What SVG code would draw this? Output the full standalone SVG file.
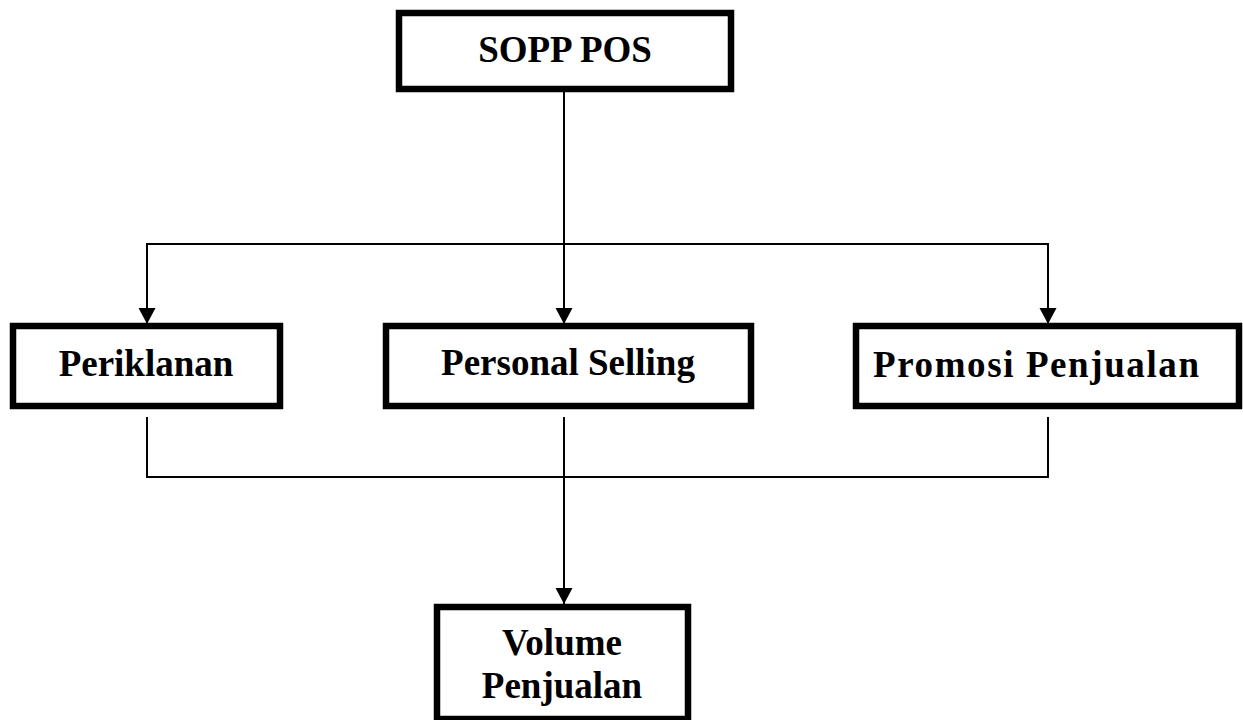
<svg xmlns="http://www.w3.org/2000/svg" width="1243" height="720" viewBox="0 0 1243 720">
<style>
.box{fill:#fff;stroke:#000;stroke-width:6.5}
.lbl{font-family:"Liberation Serif","Times New Roman",serif;font-weight:bold;font-size:37px;fill:#000;text-anchor:middle}
.ln{fill:none;stroke:#000;stroke-width:2}
</style>
<defs>
<marker id="ah" markerUnits="userSpaceOnUse" markerWidth="18" markerHeight="18" refX="16" refY="8.5" orient="auto">
<path d="M0,0 L16,8.5 L0,17 Z" fill="#000"/>
</marker>
</defs>
<rect width="1243" height="720" fill="#fff"/>
<g id="connectors">
<line class="ln" x1="564" y1="92" x2="564" y2="324" marker-end="url(#ah)"/>
<polyline class="ln" points="147,324 147,244 1048,244 1048,324"/>
<line class="ln" x1="147" y1="244" x2="147" y2="324" marker-end="url(#ah)"/>
<line class="ln" x1="1048" y1="244" x2="1048" y2="324" marker-end="url(#ah)"/>
<polyline class="ln" points="147,417 147,477 1048,477 1048,417"/>
<line class="ln" x1="564" y1="417" x2="564" y2="604" marker-end="url(#ah)"/>
</g>
<g id="sopp">
<rect class="box" x="399" y="13" width="332" height="76"/>
<text class="lbl" x="565" y="62">SOPP POS</text>
</g>
<g id="periklanan">
<rect class="box" x="13" y="326" width="267" height="80"/>
<text class="lbl" x="146" y="376">Periklanan</text>
</g>
<g id="personal">
<rect class="box" x="386" y="326" width="365" height="80"/>
<text class="lbl" x="568" y="375">Personal Selling</text>
</g>
<g id="promosi">
<rect class="box" x="856" y="326" width="383" height="80"/>
<text class="lbl" x="1036" y="377" textLength="326" lengthAdjust="spacing">Promosi Penjualan</text>
</g>
<g id="volume">
<rect class="box" x="437" y="607" width="251" height="112"/>
<text class="lbl" x="562" y="655">Volume</text>
<text class="lbl" x="562" y="698">Penjualan</text>
</g>
</svg>
